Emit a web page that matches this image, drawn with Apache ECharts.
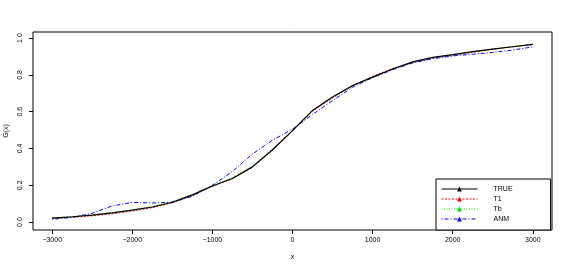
<!DOCTYPE html>
<html><head><meta charset="utf-8">
<script src="https://cdn.jsdelivr.net/npm/echarts@6/dist/echarts.min.js"></script>
<style>html,body{margin:0;padding:0;background:#fff}#c{width:569px;height:271px}</style>
</head><body><div id="c"></div>
<script>
const xs = [-3000,-2750,-2500,-2250,-2000,-1750,-1500,-1250,-1000,-750,-500,-250,0,250,500,750,1000,1250,1500,1750,2000,2250,2500,2750,3000];
const trueVals = [0.022,0.029,0.038,0.050,0.065,0.082,0.108,0.148,0.196,0.237,0.300,0.393,0.497,0.607,0.680,0.742,0.788,0.832,0.871,0.895,0.910,0.926,0.940,0.953,0.966];
const t1Vals   = [0.020,0.026,0.034,0.045,0.060,0.078,0.105,0.143,0.195,0.235,0.298,0.390,0.495,0.602,0.675,0.740,0.792,0.835,0.866,0.890,0.905,0.922,0.940,0.953,0.965];
const tbVals   = [0.024,0.030,0.040,0.052,0.067,0.085,0.112,0.150,0.200,0.242,0.305,0.395,0.497,0.605,0.680,0.738,0.787,0.830,0.868,0.892,0.908,0.925,0.940,0.954,0.966];
const anmVals  = [0.016,0.025,0.048,0.088,0.107,0.104,0.108,0.140,0.200,0.275,0.370,0.445,0.505,0.585,0.660,0.733,0.785,0.828,0.865,0.888,0.903,0.912,0.922,0.935,0.952];
const xTicks = [-3000,-2000,-1000,0,1000,2000,3000];
const yTicks = [0,0.2,0.4,0.6,0.8,1.0];

const pair = v => xs.map((x,i)=>[x,v[i]]);
const font = 'Liberation Sans';
const chart = echarts.init(document.getElementById('c'));
chart.setOption({
  animation:false,
  backgroundColor:'#fff',
  textStyle:{fontFamily:font,color:'#000'},
  grid:{left:33,right:17,top:32,bottom:41,show:true,borderColor:'#000',borderWidth:1,backgroundColor:'transparent',
    containLabel:false,outerBoundsMode:'none'},
  xAxis:{type:'value',min:-3240,max:3240,name:'x',nameLocation:'middle',nameGap:24,
    nameTextStyle:{fontSize:7,fontFamily:font,color:'#000'},
    axisLine:{show:false,onZero:false},splitLine:{show:false},
    axisTick:{show:true,customValues:xTicks,length:4,lineStyle:{color:'#000'}},
    axisLabel:{customValues:xTicks,fontSize:7,fontFamily:font,color:'#000',margin:7,
      formatter:v=>String(v).replace('-','\u2212')}},
  yAxis:{type:'value',min:-0.043,max:1.033,name:'G(x)',nameLocation:'middle',nameGap:22,
    nameTextStyle:{fontSize:7,fontFamily:font,color:'#000'},
    axisLine:{show:false,onZero:false},splitLine:{show:false},
    axisTick:{show:true,customValues:yTicks,length:4,lineStyle:{color:'#000'}},
    axisLabel:{customValues:yTicks,fontSize:7,fontFamily:font,color:'#000',margin:9,rotate:90,
      formatter:v=>v.toFixed(1)}},
  legend:{orient:'vertical',left:436,top:179,data:['TRUE','T1','Tb','ANM'],
    backgroundColor:'#fff',borderColor:'#000',borderWidth:1,borderRadius:0,
    padding:[6,38,7,5],itemWidth:36,itemHeight:6,itemGap:2,
    lineStyle:{width:1},
    textStyle:{fontSize:7,fontFamily:font,color:'#000',lineHeight:8,padding:[0,0,0,11]}},
  series:[
    {name:'T1',type:'line',data:pair(t1Vals),symbol:'triangle',symbolSize:5,showSymbol:false,
      itemStyle:{color:'#ff0000'},lineStyle:{color:'#ff0000',width:0.9,type:[2,1.5]},z:2},
    {name:'Tb',type:'line',data:pair(tbVals),symbol:'triangle',symbolSize:5,showSymbol:false,
      itemStyle:{color:'#00dd00'},lineStyle:{color:'#00dd00',width:0.9,type:[1,1.5]},z:2},
    {name:'ANM',type:'line',data:pair(anmVals),symbol:'triangle',symbolSize:5,showSymbol:false,
      itemStyle:{color:'#0000ff'},lineStyle:{color:'#0000ff',width:1,type:[1,2,4,2]},z:3},
    {name:'TRUE',type:'line',data:pair(trueVals),symbol:'triangle',symbolSize:5,showSymbol:false,
      itemStyle:{color:'#000'},lineStyle:{color:'#000',width:1.2,type:'solid'},z:4}
  ]
});
</script></body></html>
